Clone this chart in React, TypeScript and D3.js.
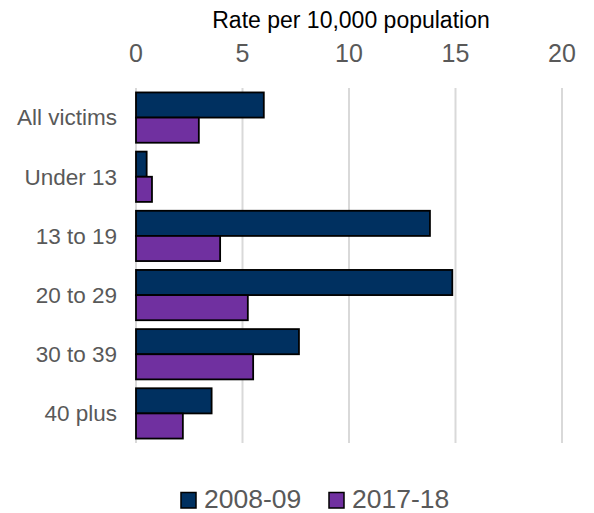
import React from "react";
import * as d3 from "d3";

const categories = ["All victims", "Under 13", "13 to 19", "20 to 29", "30 to 39", "40 plus"];
const seriesNames = ["2008-09", "2017-18"];
const values2008 = [6.0, 0.5, 13.8, 14.85, 7.65, 3.55];
const values2017 = [2.95, 0.75, 3.95, 5.25, 5.5, 2.2];
const ticks = [0, 5, 10, 15, 20];
const colors = ["#003060", "#7030a0"];

const W = 594;
const H = 513;
const font = "'Liberation Sans', Arial, sans-serif";

export default function App() {
  const x = d3.scaleLinear().domain([0, 20]).range([136, 562]);
  const y0 = d3
    .scaleBand<string>()
    .domain(categories)
    .range([88, 443])
    .paddingInner(0.15)
    .paddingOuter(0.075);
  const y1 = d3.scaleBand<string>().domain(seriesNames).range([0, y0.bandwidth()]);
  const series = [values2008, values2017];

  return (
    <svg
      width={W}
      height={H}
      style={{ position: "absolute", left: 0, top: 0, background: "#fff" }}
    >
      <text x={351} y={28} textAnchor="middle" fontFamily={font} fontSize={23} fill="#000">
        Rate per 10,000 population
      </text>
      {ticks.map((t) => (
        <g key={t}>
          <text x={x(t)} y={62} textAnchor="middle" fontFamily={font} fontSize={25} fill="#595959">
            {t}
          </text>
          <line x1={x(t)} x2={x(t)} y1={88} y2={443} stroke="#d9d9d9" strokeWidth={2} />
        </g>
      ))}
      {categories.map((c, i) => (
        <g key={c}>
          {series.map((vals, s) => (
            <rect
              key={s}
              x={x(0)}
              y={(y0(c) as number) + (y1(seriesNames[s]) as number)}
              width={x(vals[i]) - x(0)}
              height={y1.bandwidth()}
              fill={colors[s]}
              stroke="#000"
              strokeWidth={1.8}
            />
          ))}
          <text
            x={117}
            y={(y0(c) as number) + y0.bandwidth() / 2}
            dy="0.35em"
            textAnchor="end"
            fontFamily={font}
            fontSize={22.5}
            fill="#595959"
          >
            {c}
          </text>
        </g>
      ))}
      {seriesNames.map((s, i) => {
        const lx = [181, 329][i];
        return (
          <g key={s}>
            <rect x={lx} y={492.5} width={15} height={15.5} fill={colors[i]} stroke="#000" strokeWidth={1.5} />
            <text x={lx + 23} y={507.5} fontFamily={font} fontSize={26.5} fill="#595959">
              {s}
            </text>
          </g>
        );
      })}
    </svg>
  );
}
